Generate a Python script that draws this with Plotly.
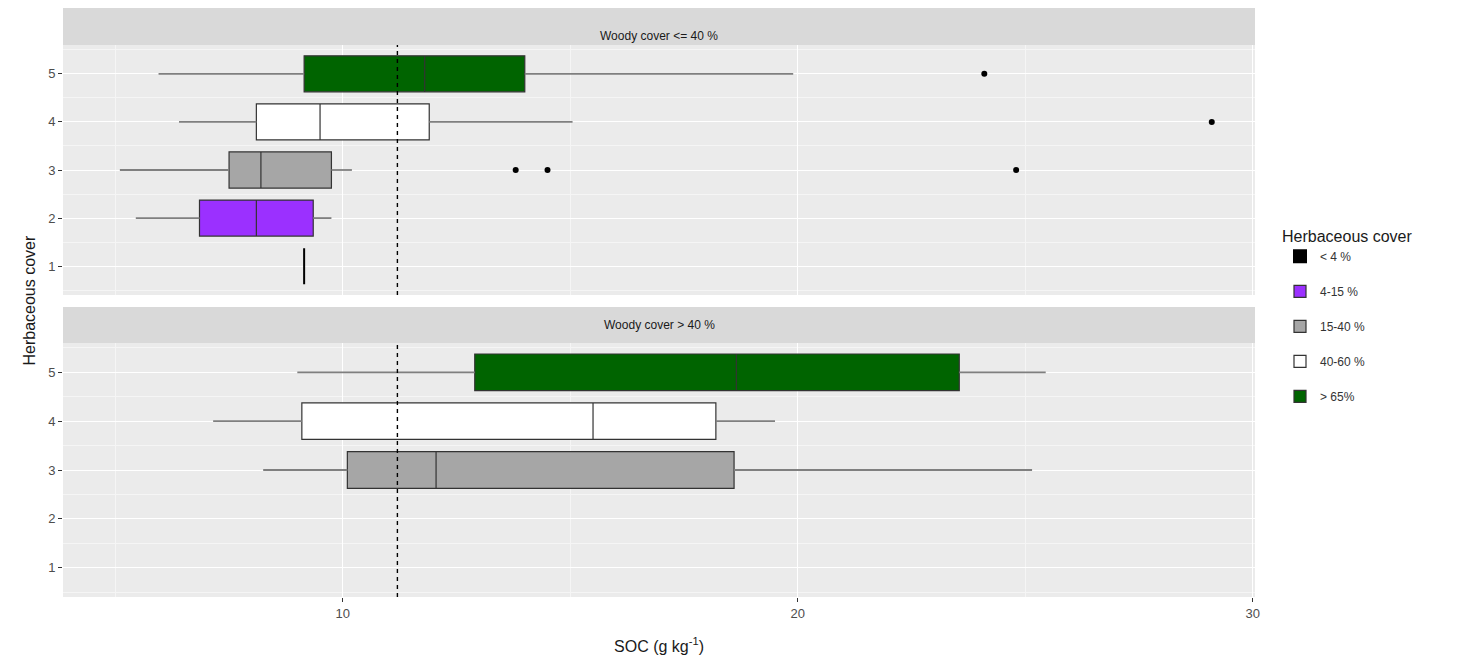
import plotly.graph_objects as go

# ---------------- data ----------------
herb_labels = ["< 4 %", "4-15 %", "15-40 %", "40-60 %", "> 65%"]
herb_colors = ["#000000", "#9B30FF", "#A6A6A6", "#FFFFFF", "#006400"]

panel_titles = ["Woody cover <= 40 %", "Woody cover > 40 %"]

# top panel (Woody cover <= 40 %)
top_cat = [1, 2, 3, 4, 5]
top_low = [9.15, 5.45, 5.1, 6.4, 5.95]
top_q1 = [9.15, 6.85, 7.5, 8.1, 9.15]
top_med = [9.15, 8.1, 8.2, 9.5, 11.8]
top_q3 = [9.15, 9.35, 9.75, 11.9, 14.0]
top_high = [9.15, 9.75, 10.2, 15.05, 19.9]
top_out_cat = [3, 3, 3, 4, 5]
top_out_val = [13.8, 14.5, 24.8, 29.1, 24.1]

# bottom panel (Woody cover > 40 %)
bot_cat = [3, 4, 5]
bot_low = [8.25, 7.15, 9.0]
bot_q1 = [10.1, 9.1, 12.9]
bot_med = [12.05, 15.5, 18.65]
bot_q3 = [18.6, 18.2, 23.55]
bot_high = [25.15, 19.5, 25.45]
bot_out_cat = []
bot_out_val = []

ref_soc = 11.2

x_ticks = [10, 20, 30]
x_minor = [5, 15, 25]
y_ticks = [1, 2, 3, 4, 5]

# ---------------- figure ----------------
FONT = "Liberation Sans, Arial, Helvetica, sans-serif"
fig = go.Figure()
legend_done = set()


def add_panel(cats, low, q1, med, q3, high, out_cat, out_val, xa, ya):
    # whiskers
    for c, lo, a, b, hi in zip(cats, low, q1, q3, high):
        fig.add_trace(go.Scatter(
            x=[lo, a, None, b, hi], y=[c, c, None, c, c], mode="lines",
            line=dict(color="#7F7F7F", width=1.8), showlegend=False,
            hoverinfo="skip", xaxis=xa, yaxis=ya))
    # boxes
    for c, a, m, b in zip(cats, q1, med, q3):
        i = c - 1
        show = herb_labels[i] not in legend_done
        legend_done.add(herb_labels[i])
        single = (a == b)
        fig.add_trace(go.Box(
            y=[c], q1=[a], median=[m], q3=[b], lowerfence=[a], upperfence=[b],
            orientation="h", width=0.75, boxpoints=False,
            fillcolor=herb_colors[i],
            line=dict(color="#000000" if single else "#333333",
                      width=2 if single else 1.2),
            name=herb_labels[i], legendgroup=herb_labels[i],
            legendrank=i + 1, showlegend=show, xaxis=xa, yaxis=ya))
    # outliers
    if out_val:
        fig.add_trace(go.Scatter(
            x=out_val, y=out_cat, mode="markers",
            marker=dict(color="#000000", size=6), showlegend=False,
            xaxis=xa, yaxis=ya))


add_panel(top_cat, top_low, top_q1, top_med, top_q3, top_high,
          top_out_cat, top_out_val, "x", "y")
add_panel(bot_cat, bot_low, bot_q1, bot_med, bot_q3, bot_high,
          bot_out_cat, bot_out_val, "x2", "y2")

# page body has an 8px margin: work in reference pixels, shift by 8
OFF = 8
W, H = 1484 - 2 * OFF, 663 - 2 * OFF
ml, mr, mt, mb = 63 - OFF, W - (1255 - OFF), 0, H - (597 - OFF)
pw, ph = W - ml - mr, H - mt - mb


def py(px):  # reference pixel from top -> paper y
    return (597 - px) / ph


def pxx(px):  # reference pixel from left -> paper x
    return (px - 63) / pw


top_dom = [py(295), py(45)]
top_strip = [py(45), 1.0]
bot_dom = [0.0, py(343)]
bot_strip = [py(343), py(307)]

xrange = [3.85, 30.05]
yaxis_common = dict(
    range=[0.4, 5.6], tickvals=y_ticks, ticks="outside", ticklen=4,
    tickcolor="#333333", tickfont=dict(size=13, color="#4D4D4D", family=FONT),
    showgrid=True, gridcolor="#FFFFFF", gridwidth=1.2, zeroline=False,
    minor=dict(tickvals=[0.5, 1.5, 2.5, 3.5, 4.5, 5.5], showgrid=True,
               gridcolor="#F5F5F5", gridwidth=0.6, ticks=""),
    showline=False)
xaxis_common = dict(
    range=xrange, tickvals=x_ticks, showgrid=True, gridcolor="#FFFFFF",
    gridwidth=1.2, zeroline=False, showline=False,
    minor=dict(tickvals=x_minor, showgrid=True, gridcolor="#F5F5F5",
               gridwidth=0.6, ticks=""))

fig.update_layout(
    width=W, height=H,
    margin=dict(l=ml, r=mr, t=mt, b=mb),
    paper_bgcolor="#FFFFFF", plot_bgcolor="#EBEBEB",
    font=dict(family=FONT, color="#333333"),
    boxmode="overlay",
    xaxis=dict(**xaxis_common, anchor="y", matches="x2",
               showticklabels=False, ticks=""),
    yaxis=dict(**yaxis_common, domain=top_dom, anchor="x"),
    xaxis2=dict(**xaxis_common, anchor="y2", ticks="outside", ticklen=4,
                tickcolor="#333333",
                tickfont=dict(size=13, color="#4D4D4D", family=FONT),
                title=dict(text="SOC (g kg<sup>-1</sup>)",
                           font=dict(size=16, color="#1A1A1A", family=FONT),
                           standoff=22)),
    yaxis2=dict(**yaxis_common, domain=bot_dom, anchor="x2"),
    legend=dict(
        title=dict(text="Herbaceous cover",
                   font=dict(size=16, color="#1A1A1A", family=FONT)),
        x=pxx(1280), xanchor="left",
        y=py(221), yanchor="top",
        traceorder="grouped", tracegroupgap=16,
        font=dict(size=12, color="#333333", family=FONT),
        bgcolor="rgba(0,0,0,0)"),
    showlegend=True,
)

# facet strips
for dom, title in zip([top_strip, bot_strip], panel_titles):
    fig.add_shape(type="rect", xref="paper", yref="paper", x0=0, x1=1,
                  y0=dom[0], y1=dom[1], fillcolor="#D9D9D9",
                  line=dict(width=0), layer="below")
    fig.add_annotation(text=title, xref="paper", yref="paper", x=0.5,
                       y=(dom[0] + dom[1]) / 2, showarrow=False,
                       font=dict(size=12, color="#1A1A1A", family=FONT))

# reference SOC line in both panels
for xa, ya in [("x", "y"), ("x2", "y2")]:
    fig.add_shape(type="line", xref=xa, yref=ya + " domain", x0=ref_soc,
                  x1=ref_soc, y0=0, y1=1,
                  line=dict(color="#000000", width=1.4, dash="4px,4px"))

# y axis title
fig.add_annotation(text="Herbaceous cover", xref="paper", yref="paper",
                   x=pxx(18), y=py(300), textangle=-90,
                   showarrow=False,
                   font=dict(size=16, color="#1A1A1A", family=FONT))

fig.write_html("out.html")
